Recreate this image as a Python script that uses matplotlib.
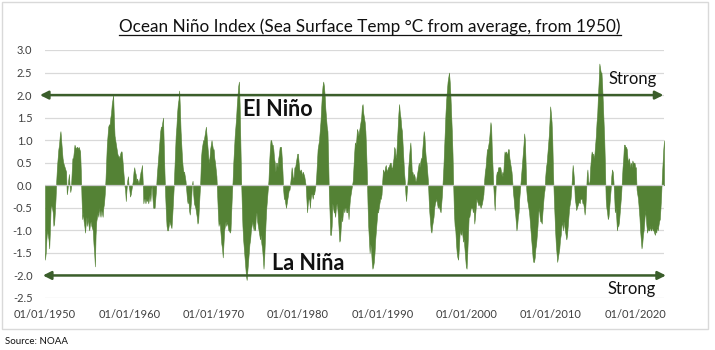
import matplotlib
matplotlib.use("Agg")
import matplotlib.pyplot as plt
import matplotlib.patches as mpatches
from matplotlib.lines import Line2D
import numpy as np

plt.rcParams['font.family'] = ['Lato', 'DejaVu Sans']

# Monthly sea surface temperature anomaly (°C), starting Jan 1950
start_year = 1950
nino_1950s = [
    -1.65, -1.5, -1.2, -1.0, -1.1, -1.2, -1.4, -1.0, -0.5, -0.45, -0.5, -0.6,
    -0.9, -0.85, -0.6, -0.3, 0.1, 0.4, 0.6, 0.8, 0.9, 1.1, 1.2, 1.0,
    0.8, 0.6, 0.5, 0.45, 0.4, 0.35, 0.3, -0.2, -0.1, 0.1, 0.25, 0.0,
    -0.15, -0.05, 0.3, 0.6, 0.6, 0.75, 0.9, 0.85, 0.8, 0.85, 0.85, 0.8,
    0.85, 0.8, 0.75, 0.3, -0.3, -0.75, -0.6, -0.8, -0.9, -1.05, -0.85, -0.7,
    -0.9, -0.7, -0.9, -1.0, -0.85, -0.8, -0.9, -0.95, -1.0, -1.3, -1.5, -1.8,
    -1.1, -0.8, -0.7, -0.6, -0.7, -0.5, -0.6, -0.7, -0.55, -0.6, -0.7, -0.5,
    -0.4, -0.2, 0.1, 0.5, 0.9, 1.1, 1.3, 1.35, 1.35, 1.5, 1.6, 1.8,
    1.9, 2.0, 1.5, 1.1, 1.0, 0.9, 0.8, 0.7, 0.65, 0.65, 0.6, 0.7,
    0.75, 0.75, 0.6, 0.4, 0.2, 0.0, -0.1, -0.35, -0.1, 0.1, 0.2, 0.0,
]
nino_1960s = [
    -0.1, -0.25, -0.2, -0.1, 0.0, 0.1, 0.3, 0.4, 0.3, 0.25, 0.1, 0.15,
    0.1, 0.05, 0.1, 0.2, 0.3, 0.35, 0.45, 0.1, -0.4, -0.3, -0.3, -0.4,
    -0.3, -0.35, -0.3, -0.4, -0.3, -0.2, -0.35, -0.1, 0.0, -0.3, -0.5, -0.5,
    -0.5, -0.3, -0.1, 0.2, 0.4, 0.6, 0.8, 1.0, 1.2, 1.3, 1.3, 1.4,
    1.5, 0.9, 0.3, -0.2, -0.6, -0.9, -1.0, -1.0, -0.9, -0.8, -0.85, -0.9,
    -0.95, -0.7, -0.4, -0.1, 0.3, 0.7, 1.1, 1.3, 1.6, 1.8, 1.9, 2.1,
    1.7, 1.2, 0.9, 0.6, 0.4, 0.3, 0.3, 0.2, 0.1, -0.1, -0.3, -0.4,
    -0.3, -0.55, -0.65, -0.5, -0.3, 0.0, 0.1, -0.2, -0.4, -0.45, -0.5, -0.6,
    -0.7, -0.85, -0.8, -0.5, -0.2, 0.1, 0.6, 0.8, 0.9, 1.0, 1.0, 1.1,
    1.2, 1.3, 1.1, 0.9, 0.7, 0.5, 0.6, 0.8, 0.9, 1.0, 0.9, 0.8,
]
nino_1970s = [
    0.8, 0.6, 0.5, 0.35, 0.2, -0.2, -0.6, -0.9, -0.8, -0.9, -1.1, -1.3,
    -1.4, -1.6, -1.3, -1.0, -0.9, -0.8, -0.9, -0.8, -0.9, -1.0, -1.0, -1.05,
    -1.0, -0.6, -0.2, 0.1, 0.5, 0.8, 1.1, 1.3, 1.5, 1.8, 2.0, 2.2,
    2.3, 1.8, 1.0, 0.2, -0.4, -0.9, -1.2, -1.4, -1.6, -1.8, -2.0, -2.1,
    -1.9, -1.7, -1.5, -1.3, -1.2, -1.0, -0.9, -0.8, -0.9, -1.0, -0.9, -1.0,
    -0.7, -0.6, -0.8, -0.9, -1.0, -1.1, -1.2, -1.1, -1.3, -1.4, -1.6, -1.85,
    -1.6, -1.2, -0.8, -0.5, -0.3, -0.1, 0.1, 0.5, 0.8, 1.0, 1.0, 0.9,
    0.9, 0.8, 0.6, 0.5, 0.3, 0.5, 0.5, 0.4, 0.6, 0.7, 0.85, 0.85,
    0.85, 0.6, 0.3, -0.1, -0.3, -0.3, -0.4, -0.5, -0.4, -0.3, -0.2, -0.1,
    -0.1, 0.05, 0.2, 0.4, 0.3, 0.1, 0.2, 0.4, 0.4, 0.5, 0.6, 0.7,
]
nino_1980s = [
    0.7, 0.5, 0.35, 0.3, 0.35, 0.3, 0.2, 0.3, 0.25, 0.2, 0.1, 0.0,
    -0.3, -0.6, -0.4, -0.3, -0.3, -0.5, -0.3, -0.2, -0.2, -0.3, -0.2, -0.2,
    -0.1, 0.0, 0.2, 0.5, 0.8, 0.9, 1.0, 1.2, 1.4, 1.7, 2.0, 2.2,
    2.3, 2.2, 2.0, 1.7, 1.5, 1.3, 1.2, 0.6, -0.2, -0.6, -1.1, -1.1,
    -0.9, -0.4, -0.5, -0.6, -0.6, -0.7, -0.5, -0.4, -0.5, -0.7, -1.0, -1.25,
    -1.2, -0.9, -0.7, -0.8, -0.6, -0.5, -0.6, -0.5, -0.5, -0.6, -0.6, -0.5,
    -0.75, -0.5, -0.3, -0.2, -0.1, 0.0, 0.1, 0.4, 0.7, 0.95, 0.9, 1.0,
    1.25, 1.2, 1.1, 1.2, 1.3, 1.4, 1.5, 1.75, 1.8, 1.6, 1.5, 1.4,
    1.2, 0.8, 0.3, -0.4, -0.9, -1.2, -1.5, -1.3, -1.4, -1.7, -1.85, -1.8,
    -1.7, -1.5, -1.2, -1.0, -0.8, -0.6, -0.6, -0.5, -0.4, -0.3, -0.3, -0.2,
]
nino_1990s = [
    0.1, 0.35, 0.3, 0.3, 0.4, 0.45, 0.35, 0.3, 0.4, 0.4, 0.45, 0.5,
    0.5, 0.4, 0.35, 0.5, 0.6, 0.85, 0.8, 0.6, 0.7, 1.0, 1.3, 1.6,
    1.8, 1.6, 1.5, 1.3, 1.2, 0.9, 0.6, 0.3, 0.1, -0.2, -0.35, -0.1,
    0.1, 0.4, 0.6, 0.8, 0.95, 0.7, 0.3, 0.3, 0.2, 0.25, 0.2, 0.1,
    0.1, 0.2, 0.3, 0.4, 0.5, 0.4, 0.5, 0.6, 0.6, 0.8, 1.0, 1.2,
    1.1, 0.8, 0.6, 0.5, 0.3, 0.1, -0.3, -0.6, -0.8, -1.0, -1.05, -0.9,
    -0.8, -0.7, -0.5, -0.4, -0.35, -0.3, -0.4, -0.5, -0.45, -0.5, -0.55, -0.6,
    -0.4, -0.2, 0.1, 0.4, 0.8, 1.2, 1.6, 1.9, 2.1, 2.3, 2.4, 2.5,
    2.3, 2.0, 1.6, 1.2, 0.7, 0.0, -0.6, -0.9, -1.0, -1.3, -1.5, -1.6,
    -1.65, -1.4, -1.1, -1.0, -1.1, -1.0, -1.1, -1.25, -1.2, -1.4, -1.6, -1.8,
]
nino_2000s = [
    -1.85, -1.5, -1.1, -0.7, -0.7, -0.6, -0.5, -0.5, -0.5, -0.6, -0.5, -0.85,
    -0.7, -0.5, -0.3, -0.35, -0.4, -0.45, -0.4, -0.45, -0.5, -0.45, -0.4, -0.3,
    -0.2, 0.1, 0.3, 0.4, 0.6, 0.8, 0.8, 0.9, 1.0, 1.2, 1.4, 1.3,
    0.75, 0.4, 0.0, -0.3, -0.55, -0.2, 0.2, 0.3, 0.3, 0.4, 0.4, 0.4,
    0.4, 0.3, 0.2, 0.3, 0.2, 0.5, 0.75, 0.7, 0.75, 0.7, 0.7, 0.8,
    0.8, 0.6, 0.5, 0.4, 0.3, 0.1, -0.15, -0.3, -0.5, -0.6, -0.8, -1.0,
    -0.9, -0.7, -0.6, -0.3, -0.1, 0.1, 0.3, 0.5, 0.7, 0.9, 1.15, 1.0,
    0.5, -0.1, -0.3, -0.4, -0.5, -0.6, -0.8, -1.0, -1.2, -1.4, -1.6, -1.7,
    -1.7, -1.6, -1.4, -1.3, -1.1, -0.9, -0.6, -0.5, -0.7, -0.8, -0.8, -0.85,
    -0.6, -0.4, -0.2, -0.1, 0.2, 0.4, 0.5, 0.7, 0.9, 1.1, 1.4, 1.75,
]
nino_2010s = [
    1.6, 1.4, 1.0, 0.3, -0.2, -0.6, -1.0, -1.3, -1.5, -1.7, -1.6, -1.5,
    -1.4, -1.2, -1.1, -0.9, -0.8, -1.0, -0.8, -0.9, -1.0, -1.1, -1.2, -1.1,
    -0.9, -0.7, -0.5, -0.4, -0.3, -0.1, 0.2, 0.45, 0.3, 0.1, -0.3, -0.4,
    -0.55, -0.5, -0.45, -0.4, -0.35, -0.4, -0.3, -0.3, -0.3, -0.4, -0.4, -0.5,
    -0.65, -0.5, -0.2, 0.2, 0.35, 0.1, 0.0, 0.1, 0.4, 0.6, 0.75, 0.7,
    0.7, 0.6, 0.7, 0.9, 1.1, 1.4, 1.6, 2.0, 2.3, 2.7, 2.6, 2.5,
    2.5, 2.2, 1.8, 1.4, 1.0, 0.4, -0.3, -0.5, -0.6, -0.75, -0.7, -0.5,
    -0.3, -0.1, 0.2, 0.35, 0.3, 0.1, -0.2, -0.6, -0.5, -0.7, -1.0, -0.9,
    -0.9, -0.8, -0.6, -0.4, -0.2, 0.1, 0.4, 0.6, 0.9, 0.9, 0.85, 0.85,
    0.8, 0.6, 0.5, 0.6, 0.5, 0.4, 0.5, 0.4, 0.55, 0.5, 0.5, 0.5,
]
nino_2020s = [
    0.4, 0.4, -0.1, -0.2, -0.3, -0.5, -0.7, -1.0, -1.2, -1.4, -1.3, -1.1,
    -1.0, -0.8, -0.55, -0.7, -0.9, -1.05, -0.95, -1.0, -1.0, -0.9, -1.0, -1.0,
    -0.9, -1.0, -1.0, -1.05, -1.1, -1.0, -1.05, -0.9, -1.0, -0.9, -0.8, -0.75,
    -0.5, -0.2, 0.2, 0.5, 0.8, 1.0,
]

y_ticks = [-2.5, -2.0, -1.5, -1.0, -0.5, 0.0, 0.5, 1.0, 1.5, 2.0, 2.5, 3.0]
x_tick_years = [1950, 1960, 1970, 1980, 1990, 2000, 2010, 2020]
x_tick_labels = [f"01/01/{y}" for y in x_tick_years]

title = "Ocean Niño Index (Sea Surface Temp °C from average, from 1950)"
strong_level = 2.0

values = np.array(nino_1950s + nino_1960s + nino_1970s + nino_1980s +
                  nino_1990s + nino_2000s + nino_2010s + nino_2020s)
x = start_year + np.arange(len(values)) / 12.0

W, H = 715, 350
fig = plt.figure(figsize=(W / 100, H / 100), dpi=100)
fig.patch.set_facecolor("white")

# chart border
fig.patches.append(mpatches.Rectangle((2 / W, 1 - 329 / H), 706 / W, 327 / H,
                                      transform=fig.transFigure, fill=False,
                                      edgecolor="#d9d9d9", linewidth=1.0))

ax = fig.add_axes([45 / W, 1 - 298 / H, (664 - 45) / W, (298 - 50) / H])
ax.set_xlim(start_year, x[-1])
ax.set_ylim(-2.5, 3.0)

for v in y_ticks:
    if v != 0:
        ax.axhline(v, color="#d9d9d9", lw=0.9, zorder=0)

green = "#548235"
ax.fill_between(x, values, 0, color=green, lw=0.4, edgecolor=green, zorder=2)
ax.axhline(0, color="#c9c9c9", lw=0.9, zorder=3)

for s in ax.spines.values():
    s.set_visible(False)

ax.set_yticks(y_ticks)
ax.set_yticklabels([f"{v:.1f}" for v in y_ticks])
ax.set_xticks(x_tick_years)
ax.set_xticklabels(x_tick_labels)
ax.tick_params(axis="both", length=0, labelsize=8, labelcolor="#404040")
ax.tick_params(axis="y", pad=9)
ax.tick_params(axis="x", pad=8)

arrow_col = "#3b5e2b"
ax.annotate("", xy=(1949.4, strong_level), xytext=(2023.35, strong_level),
            xycoords="data", textcoords="data", annotation_clip=False,
            arrowprops=dict(arrowstyle="<|-|>", color=arrow_col, lw=1.8,
                            mutation_scale=12, shrinkA=0, shrinkB=0), zorder=4)
ax.annotate("", xy=(1949.75, -strong_level), xytext=(2023.65, -strong_level),
            xycoords="data", textcoords="data", annotation_clip=False,
            arrowprops=dict(arrowstyle="<|-|>", color=arrow_col, lw=1.8,
                            mutation_scale=12, shrinkA=0, shrinkB=0), zorder=4)

ax.text(1977.6, 1.67, "El Niño", fontsize=15.5, fontweight="bold",
        ha="center", va="center", color="#111111", zorder=5)
ax.text(1981.2, -1.73, "La Niña", fontsize=15.5, fontweight="bold",
        ha="center", va="center", color="#111111", zorder=5)
ax.text(2019.75, 2.36, "Strong", fontsize=12, ha="center", va="center",
        color="#111111", zorder=5)
ax.text(2019.6, -2.3, "Strong", fontsize=12, ha="center", va="center",
        color="#111111", zorder=5)

t = fig.text(370 / W, 1 - 27 / H, title, fontsize=12.3, ha="center", va="center",
             color="#111111")
fig.text(5 / W, 1 - 342 / H, "Source: NOAA", fontsize=7, ha="left",
         va="center", color="#111111")

fig.canvas.draw()
bb = t.get_window_extent(renderer=fig.canvas.get_renderer())
inv = fig.transFigure.inverted()
(x0, y0), (x1, y1) = inv.transform([(bb.x0, bb.y0), (bb.x1, bb.y1)])
uy = 1 - 34.5 / H
fig.add_artist(Line2D([x0, x1], [uy, uy], transform=fig.transFigure,
                      color="#111111", lw=0.9))

fig.savefig("out.png", dpi=100, facecolor="white")
